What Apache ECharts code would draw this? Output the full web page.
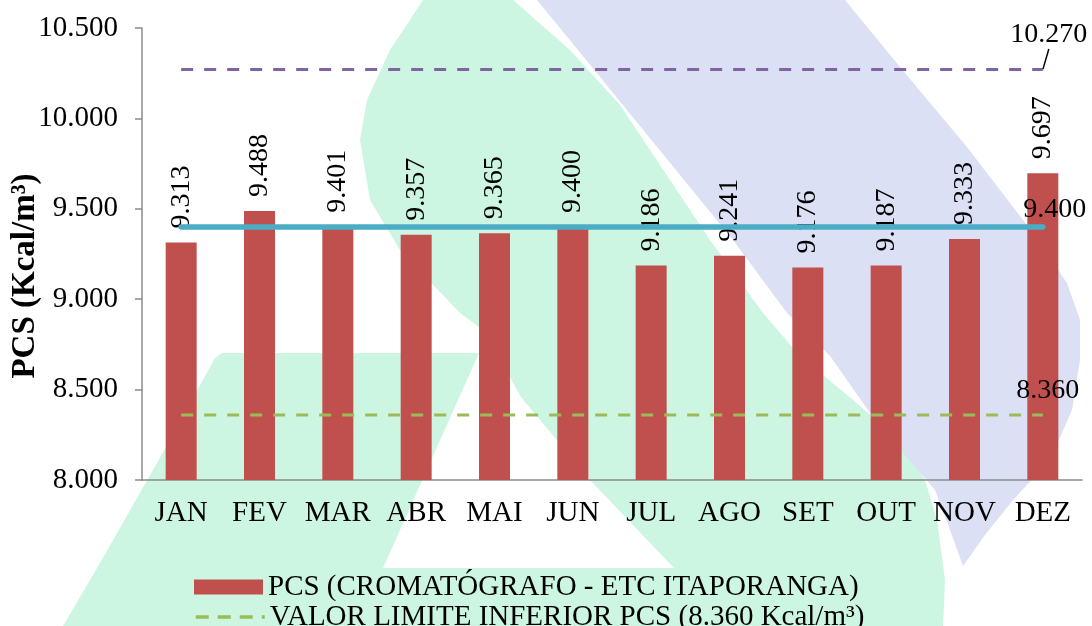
<!DOCTYPE html>
<html>
<head>
<meta charset="utf-8">
<title>PCS</title>
<script src="https://cdn.jsdelivr.net/npm/echarts@6/dist/echarts.min.js"></script>
<style>
html, body { margin: 0; padding: 0; background: #fff; }
#chart { width: 1092px; height: 626px; }
</style>
</head>
<body>
<div id="chart"></div>
<script>
// dados
const months = ['JAN', 'FEV', 'MAR', 'ABR', 'MAI', 'JUN', 'JUL', 'AGO', 'SET', 'OUT', 'NOV', 'DEZ']
const pcsValues = [9313, 9488, 9401, 9357, 9365, 9400, 9186, 9241, 9176, 9187, 9333, 9697]
const limiteSuperior = [10270, 10270, 10270, 10270, 10270, 10270, 10270, 10270, 10270, 10270, 10270, 10270]
const limiteInferior = [8360, 8360, 8360, 8360, 8360, 8360, 8360, 8360, 8360, 8360, 8360, 8360]
const pcsReferencia = [9400, 9400, 9400, 9400, 9400, 9400, 9400, 9400, 9400, 9400, 9400, 9400]
const yMin = 8000
const yMax = 10500
const yStep = 500

const serif = '"Times New Roman", "Liberation Serif", serif'
const fmt = (v) => String(v).replace(/\B(?=(\d{3})+(?!\d))/g, '.')
const noDot = 'rgba(0,0,0,0)'

// só o último ponto de cada linha tem rótulo
function lastLabel(arr) {
  return arr.map((v, i) => (i === arr.length - 1 ? { value: v, label: { show: true } } : v))
}

// marca d'água de fundo
const greenShape = [
  [423, 0], [513, 0], [570, 50], [620, 105], [670, 180], [710, 240], [763, 313], [800, 356],
  [853, 400], [900, 440], [925, 480], [937, 520], [945, 580], [943, 626], [63, 626], [100, 563],
  [157, 463], [215, 358], [222, 353], [479, 353], [383, 568], [674, 568], [590, 480], [521, 397],
  [483, 330], [460, 313], [400, 250], [370, 200], [360, 140], [367, 100], [390, 50]
]
const blueShape = [
  [537, 0], [845, 0], [900, 67], [967, 147], [1033, 233], [1067, 283], [1080, 320], [1080, 360],
  [1072, 410], [1050, 460], [1013, 500], [985, 535], [963, 566], [950, 530], [935, 490], [905, 455],
  [870, 413], [830, 356], [787, 313], [733, 240], [600, 77]
]

const legendBase = {
  orient: 'vertical',
  left: 189,
  itemWidth: 69,
  itemHeight: 15,
  selectedMode: false,
  textStyle: { fontFamily: serif, fontSize: 29, lineHeight: 30, color: '#000' }
}

const chart = echarts.init(document.getElementById('chart'))
chart.setOption({
  animation: false,
  textStyle: { fontFamily: serif, color: '#000' },
  graphic: [
    { type: 'polygon', z: -10, silent: true, shape: { points: greenShape }, style: { fill: '#CCF5E2' } },
    { type: 'polygon', z: -10, silent: true, shape: { points: blueShape }, style: { fill: '#DCE0F5' } }
  ],
  grid: { left: 142, right: 10, top: 28, bottom: 146, outerBoundsMode: 'none' },
  legend: [
    Object.assign({}, legendBase, { top: 567, data: [{ name: 'PCS (CROMATÓGRAFO - ETC ITAPORANGA)', icon: 'rect' }] }),
    Object.assign({}, legendBase, {
      top: 597,
      data: [{ name: 'VALOR LIMITE INFERIOR PCS (8.360 Kcal/m³)', lineStyle: { color: '#9BBB59', width: 3.5, type: [13, 9] } }]
    })
  ],
  xAxis: {
    type: 'category',
    data: months,
    axisLine: { lineStyle: { color: '#8c8c8c', width: 1.5 } },
    axisTick: { length: 7, lineStyle: { color: '#8c8c8c', width: 1.5 } },
    axisLabel: { interval: 0, fontFamily: serif, fontSize: 29, color: '#000', margin: 19 }
  },
  yAxis: {
    type: 'value',
    min: yMin,
    max: yMax,
    interval: yStep,
    name: 'PCS (Kcal/m³)',
    nameLocation: 'middle',
    nameGap: 100,
    nameMoveOverlap: false,
    nameTextStyle: { fontFamily: serif, fontSize: 33, fontWeight: 'bold', color: '#000', padding: [0, 44, 0, 0] },
    splitLine: { show: false },
    axisLine: { show: true, lineStyle: { color: '#8c8c8c', width: 1.5 } },
    axisTick: { show: true, length: 7, lineStyle: { color: '#8c8c8c', width: 1.5 } },
    axisLabel: { fontFamily: serif, fontSize: 29, color: '#000', margin: 24, formatter: fmt }
  },
  series: [
    {
      name: 'PCS (CROMATÓGRAFO - ETC ITAPORANGA)',
      type: 'bar',
      data: pcsValues,
      barWidth: 31,
      itemStyle: { color: '#C0504D' },
      label: {
        show: true,
        position: 'top',
        rotate: 90,
        align: 'left',
        verticalAlign: 'middle',
        distance: 14,
        fontFamily: serif,
        fontSize: 28,
        color: '#000',
        formatter: (p) => fmt(p.value)
      }
    },
    {
      name: 'VALOR LIMITE SUPERIOR PCS (10.270 Kcal/m³)',
      type: 'line',
      z: 3,
      data: lastLabel(limiteSuperior),
      symbol: 'circle',
      symbolSize: 1,
      itemStyle: { color: noDot },
      lineStyle: { color: '#8064A2', width: 3, type: [12, 11] },
      label: { show: false, position: 'top', fontFamily: serif, fontSize: 28, color: '#000', formatter: (p) => fmt(p.value) },
      labelLayout: { dx: 6, dy: -15 },
      labelLine: { show: true, lineStyle: { color: '#000', width: 1.5 } }
    },
    {
      name: 'VALOR LIMITE INFERIOR PCS (8.360 Kcal/m³)',
      type: 'line',
      z: 3,
      data: lastLabel(limiteInferior),
      symbol: 'circle',
      symbolSize: 1,
      itemStyle: { color: noDot },
      lineStyle: { color: '#9BBB59', width: 3, type: [12, 11] },
      label: { show: false, position: 'top', offset: [5, -5], fontFamily: serif, fontSize: 28, color: '#000', formatter: (p) => fmt(p.value) }
    },
    {
      name: 'PCS REFERÊNCIA',
      type: 'line',
      z: 3,
      data: lastLabel(pcsReferencia),
      symbol: 'circle',
      symbolSize: 1,
      itemStyle: { color: noDot },
      lineStyle: { color: '#4BACC6', width: 5.5, cap: 'round' },
      label: { show: false, position: 'top', offset: [12, 2], fontFamily: serif, fontSize: 28, color: '#000', formatter: (p) => fmt(p.value) }
    }
  ]
})
</script>
</body>
</html>
